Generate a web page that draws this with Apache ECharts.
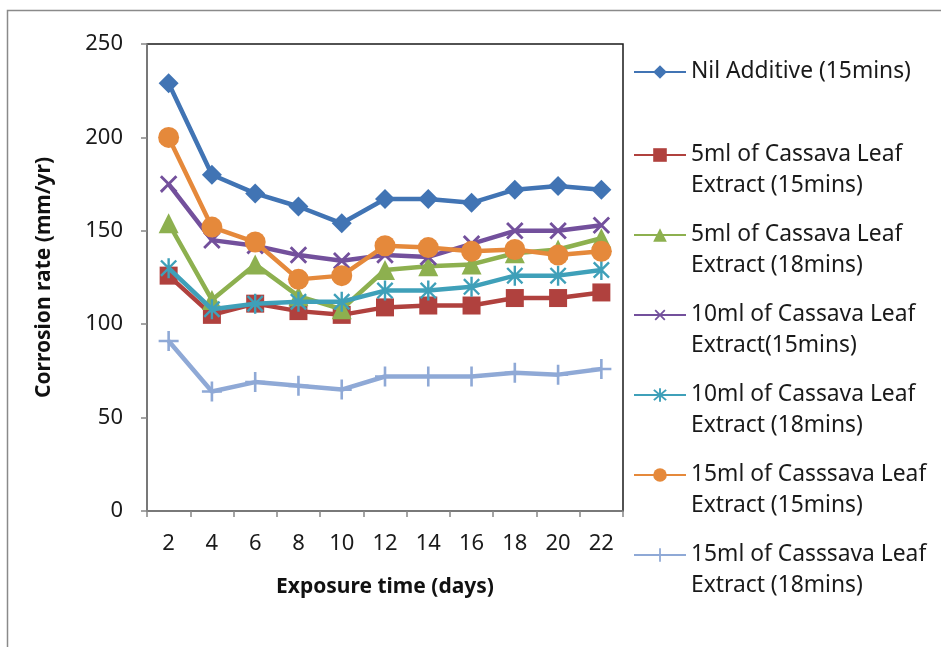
<!DOCTYPE html>
<html>
<head>
<meta charset="utf-8">
<script src="https://cdn.jsdelivr.net/npm/echarts@6/dist/echarts.min.js"></script>
<style>html,body{margin:0;padding:0;background:#fff;}#c{width:941px;height:647px;}</style>
</head>
<body>
<div id="c"></div>
<script>
// ---- data ----
const days = ['2','4','6','8','10','12','14','16','18','20','22'];
const nilAdditive15 = [229, 180, 170, 163, 154, 167, 167, 165, 172, 174, 172];
const cassava5ml15 = [126, 105, 111, 107, 105, 109, 110, 110, 114, 114, 117];
const cassava5ml18 = [154, 113, 132, 115, 108, 129, 131, 132, 138, 140, 146];
const cassava10ml15 = [175, 145, 142, 137, 134, 137, 136, 143, 150, 150, 153];
const cassava10ml18 = [130, 108, 111, 112, 112, 118, 118, 120, 126, 126, 129];
const cassava15ml15 = [200, 152, 144, 124, 126, 142, 141, 139, 140, 137, 139];
const cassava15ml18 = [91, 64, 69, 67, 65, 72, 72, 72, 74, 73, 76];
const yTicks = [0, 50, 100, 150, 200, 250];
const seriesNames = [
  'Nil Additive (15mins)',
  '5ml of Cassava Leaf Extract (15mins)',
  '5ml of Cassava Leaf Extract (18mins)',
  '10ml of Cassava Leaf Extract(15mins)',
  '10ml of Cassava Leaf Extract (18mins)',
  '15ml of Casssava Leaf Extract (15mins)',
  '15ml of Casssava Leaf Extract (18mins)'
];
const legendLines = [
  ['Nil Additive (15mins)'],
  ['5ml of Cassava Leaf', 'Extract (15mins)'],
  ['5ml of Cassava Leaf', 'Extract (18mins)'],
  ['10ml of Cassava Leaf', 'Extract(15mins)'],
  ['10ml of Cassava Leaf', 'Extract (18mins)'],
  ['15ml of Casssava Leaf', 'Extract (15mins)'],
  ['15ml of Casssava Leaf', 'Extract (18mins)']
];
const xTitle = 'Exposure time (days)';
const yTitle = 'Corrosion rate (mm/yr)';

// ---- styling ----
const FONT = '"Noto Sans", sans-serif';
const colors = ['#4174b4', '#b0413e', '#8db04f', '#73509c', '#3fa0b9', '#e5893b', '#8fa9d6'];
const PLUS = 'path://M-1.3,-10L1.3,-10L1.3,-1.3L10,-1.3L10,1.3L1.3,1.3L1.3,10L-1.3,10L-1.3,1.3L-10,1.3L-10,-1.3L-1.3,-1.3Z';
const STAR = 'path://M-1.2,-10L1.2,-10L1.2,10L-1.2,10Z M-8.5,-6.8L-6.8,-8.5L8.5,6.8L6.8,8.5Z M6.8,-8.5L8.5,-6.8L-6.8,8.5L-8.5,6.8Z';
const markers = [
  {symbol: 'diamond', size: 20, rotate: 0},
  {symbol: 'rect', size: 18, rotate: 0},
  {symbol: 'triangle', size: 20, rotate: 0},
  {symbol: PLUS, size: 22, rotate: 45},
  {symbol: STAR, size: 20, rotate: 0},
  {symbol: 'circle', size: 21, rotate: 0},
  {symbol: PLUS, size: 20, rotate: 0}
];
const values = [nilAdditive15, cassava5ml15, cassava5ml18, cassava10ml15, cassava10ml18, cassava15ml15, cassava15ml18];
const legendFirstLineY = [72, 155, 235, 315, 395, 475, 555];
const LH = 31;

const series = values.map((v, i) => ({
  name: seriesNames[i],
  type: 'line',
  data: v,
  symbol: markers[i].symbol,
  symbolSize: markers[i].size,
  symbolRotate: markers[i].rotate,
  symbolKeepAspect: true,
  showAllSymbol: true,
  lineStyle: {color: colors[i], width: 4.5},
  itemStyle: {color: colors[i], opacity: 1},
  emphasis: {disabled: true},
  animation: false,
  z: 2 + i
}));

// two-line entries get a blank leading line so the icon sits on the first text line
const legends = legendLines.map((lines, i) => {
  const two = lines.length > 1;
  return {
    show: true,
    data: [seriesNames[i]],
    orient: 'vertical',
    left: 633,
    top: two ? legendFirstLineY[i] - LH * 1.5 : legendFirstLineY[i] - LH / 2,
    padding: 0,
    itemWidth: 52,
    itemHeight: 17,
    itemGap: 5,
    selectedMode: false,
    formatter: () => (two ? ' \n' : '') + lines.join('\n'),
    textStyle: {fontFamily: FONT, fontSize: 22.8, color: '#1a1a1a', lineHeight: LH}
  };
});

const chart = echarts.init(document.getElementById('c'), null, {renderer: 'canvas'});
chart.setOption({
  animation: false,
  backgroundColor: '#fff',
  color: colors,
  graphic: [{
    type: 'rect', silent: true, z: -10,
    shape: {x: 7.5, y: 10.5, width: 940, height: 660},
    style: {fill: 'none', stroke: '#8a8a8a', lineWidth: 1.5}
  }],
  grid: {
    left: 147, right: 318, top: 44, bottom: 136,
    show: true, borderColor: '#1a1a1a', borderWidth: 1.5, backgroundColor: '#fff'
  },
  legend: legends,
  xAxis: {
    type: 'category',
    data: days,
    boundaryGap: true,
    name: xTitle,
    nameLocation: 'middle',
    nameGap: 66,
    nameTextStyle: {fontFamily: FONT, fontSize: 21, fontWeight: 'bold', color: '#111'},
    axisLine: {show: true, lineStyle: {color: '#868686', width: 1.5}},
    axisTick: {show: true, length: 6, inside: false, lineStyle: {color: '#868686', width: 1.5}},
    axisLabel: {fontFamily: FONT, fontSize: 22, color: '#1a1a1a', margin: 22, interval: 0},
    splitLine: {show: false}
  },
  yAxis: {
    type: 'value',
    min: yTicks[0],
    max: yTicks[yTicks.length - 1],
    interval: yTicks[1] - yTicks[0],
    name: yTitle,
    nameLocation: 'middle',
    nameGap: 92,
    nameRotate: 90,
    nameTextStyle: {fontFamily: FONT, fontSize: 21, fontWeight: 'bold', color: '#111'},
    axisLine: {show: true, lineStyle: {color: '#868686', width: 1.5}},
    axisTick: {show: true, length: 6, inside: false, lineStyle: {color: '#868686', width: 1.5}},
    axisLabel: {fontFamily: FONT, fontSize: 22, color: '#1a1a1a', margin: 24},
    splitLine: {show: false}
  },
  series: series
});
</script>
</body>
</html>
